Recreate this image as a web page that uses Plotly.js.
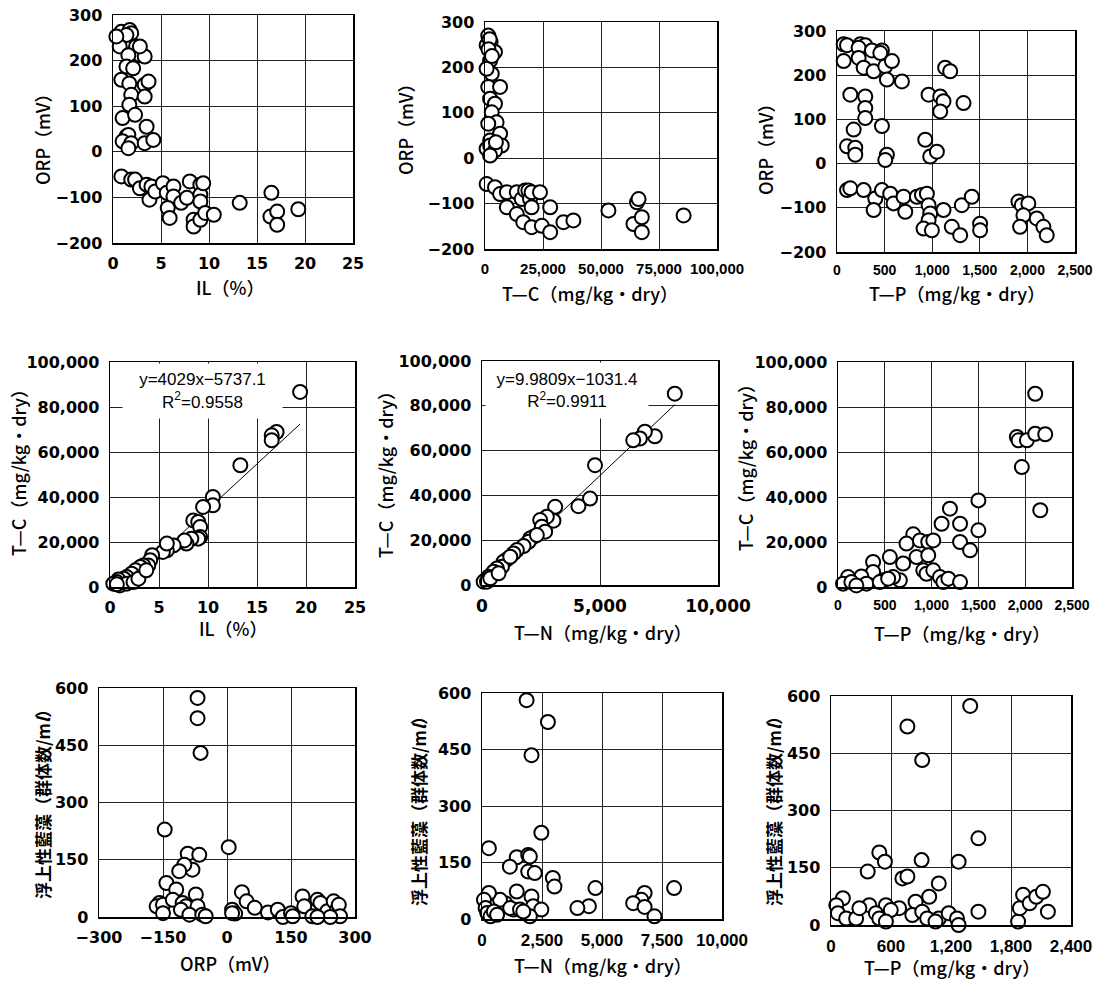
<!DOCTYPE html>
<html><head><meta charset="utf-8">
<script src="https://cdn.plot.ly/plotly-3.0.1.min.js"></script>
<style>html,body{margin:0;padding:0;background:#fff}
.xtick text,.ytick text{font-weight:bold !important}</style>
</head><body><div id="c" style="width:1108px;height:983px"></div>
<script>
// ---- data: plot 1  ORP vs IL ----
const IL1 = [0.87,1.74,1.9,1.4,0.7,2.4,2.8,3.3,1.6,1.4,2.1,0.87,1.7,1.9,3.3,3.7,3.3,1.7,1.0,2.3,3.5,1.4,1.6,1.0,1.9,1.6,3.3,4.2,2.8,0.35,
  0.87,1.9,2.3,2.8,3.5,4.0,3.8,4.4,5.2,5.6,6.3,6.3,5.7,5.9,7.1,7.7,8.0,9.1,9.1,9.1,8.4,8.4,9.1,9.6,10.5,13.2,16.5,16.4,17.1,17.1,19.3,9.4];
const ORP1 = [263,267,260,256,231,231,212,209,212,187,183,158,150,125,147,154,121,103,74,81,55,34,37,23,19,8,19,26,231,253,
  -54,-61,-61,-80,-72,-76,-105,-87,-69,-90,-76,-98,-123,-145,-112,-101,-65,-72,-94,-109,-149,-164,-149,-134,-138,-112,-90,-142,-131,-160,-126,-69];
// ---- plot 2  ORP vs T-C ----
const TC2 = [1400,700,2400,4300,2200,2900,1400,6500,2200,4300,2900,5000,1400,6500,2200,7200,700,2200,4300,2200,4700,700,2000,1500,3000,
  700,4300,6500,9400,13700,9400,13700,15800,17300,18700,19400,20100,16500,20100,20100,23700,24500,28100,28100,33800,38100,53200,65500,66200,64000,67600,67600,85600];
const ORP2 = [270,249,256,234,215,186,157,157,131,120,101,79,76,54,39,28,21,28,17,6,35,197,262,240,225,
  -57,-64,-79,-75,-75,-108,-123,-90,-71,-71,-90,-75,-141,-152,-108,-75,-149,-163,-108,-141,-137,-115,-97,-90,-145,-130,-163,-126];
// ---- plot 3  ORP vs T-P ----
const TP3 = [70,105,245,297,227,367,472,455,70,227,280,385,507,577,524,682,1136,1189,140,297,297,297,962,1084,1119,1084,1329,175,472,105,192,192,927,979,1049,524,507,
  105,140,280,402,385,472,559,594,699,717,839,892,944,962,979,962,909,997,1119,1206,1294,1311,1416,1503,1503,1906,1941,2010,1958,1923,2098,2168,2203];
const ORP3 = [270,268,270,268,262,256,256,250,232,239,217,209,220,232,190,186,217,209,156,152,126,103,156,152,141,118,137,77,85,39,36,20,54,16,27,20,8,
  -60,-56,-60,-79,-105,-60,-68,-90,-75,-109,-75,-71,-68,-94,-113,-128,-147,-151,-105,-143,-162,-94,-75,-136,-151,-86,-94,-90,-117,-143,-124,-143,-162];
// ---- plot 4  T-C vs IL ----
const IL4 = [19.4,17.0,16.5,16.5,13.3,10.5,10.5,9.5,8.5,9.0,9.2,9.2,9.0,8.3,7.8,7.6,6.5,5.8,5.4,5.8,4.3,4.1,3.9,3.4,3.1,2.6,2.2,1.7,1.4,0.85,0.7,0.34,1.0,1.7,0.7,2.4,2.9,3.7];
const TC4 = [86700,68900,67400,65200,54100,40000,36300,35600,29600,28900,26700,22200,21500,21500,19300,20700,18500,16300,15600,19300,14100,11900,9600,9600,8900,7400,5900,4400,3700,3300,2200,1500,700,1500,1200,2200,3700,7400];
const FIT4 = {slope: 4029, intercept: -5737.1, eq: "y=4029x−5737.1", r2: "R<sup>2</sup>=0.9558"};
// ---- plot 5  T-C vs T-N ----
const TN5 = [8169,7324,6901,6690,6408,4789,4577,4085,3099,3028,2746,2465,2535,2676,2183,2042,1972,1761,1479,1338,1056,915,845,634,493,282,141,70,211,352,704,1197,2324];
const TC5 = [85400,66400,68400,65400,64600,53500,38600,35200,34900,28700,30500,29000,26000,23800,21500,20800,19300,17400,15600,14100,11400,10400,8200,7400,5900,3700,2200,1500,1500,3000,5200,12600,22300];
const FIT5 = {slope: 9.9809, intercept: -1031.4, eq: "y=9.9809x−1031.4", r2: "R<sup>2</sup>=0.9911"};
// ---- plot 6  T-C vs T-P ----
const TP6 = [2107,1911,1929,2018,2107,2214,1964,2161,1500,1500,1196,1107,1304,1304,1411,804,732,875,964,1018,839,964,911,946,1018,1089,1125,1179,1304,696,554,375,375,482,661,589,250,107,54,143,304,446,196,536];
const TC6 = [85900,66700,65200,65200,68100,67900,53300,34100,38500,25200,34800,28100,28100,20000,16300,23400,19300,20700,20000,20700,13300,14100,7400,5900,7400,4400,2200,3700,2200,10400,13300,11100,6700,3000,3000,4400,4700,4400,1500,2200,1500,2200,700,3700];
// ---- plot 7  algae vs ORP ----
const ORP7 = [-69,-69,-62,-146,4,-92,-65,-81,-100,-112,-142,-119,-73,-158,-165,-150,-127,-104,-96,-69,-150,-108,-88,-58,-50,12,19,35,46,65,96,119,131,150,154,177,181,200,212,219,235,250,258,262,265,242,212,12];
const AL7 = [574,521,430,229,183,166,163,124,137,120,89,72,59,37,28,32,45,37,28,28,10,19,6,6,2,19,9,65,41,24,12,19,0,10,2,54,28,2,45,37,15,41,19,32,2,0,0,10];
// ---- plot 8  algae vs T-N ----
const TN8 = [1858,2746,2063,2473,287,1448,1926,1995,1161,1926,2199,2951,3019,4727,8005,6776,6639,6298,6776,7186,4454,3975,1448,2063,2131,2473,1995,1311,970,751,287,82,150,219,355,492,628,1175,1585,1721];
const AL8 = [581,523,435,229,188,164,170,166,139,126,122,109,86,82,82,69,51,42,32,7,34,29,73,60,34,25,7,25,42,51,69,51,29,16,7,20,11,29,25,20];
// ---- plot 9  algae vs T-P ----
const TP9 = [1392,764,912,1474,483,539,906,1276,367,714,764,1078,982,846,681,549,383,119,53,69,152,251,284,449,483,598,813,912,962,1078,1177,1260,1276,1474,1871,1888,1921,1987,2053,2119,2169,549,1045];
const AL9 = [574,520,432,227,190,166,170,166,140,122,127,109,74,61,44,52,52,70,52,31,17,17,44,31,17,39,26,35,17,17,31,17,0,35,9,44,79,57,74,87,35,9,9];

// ---- axis titles ----
const T_ORP = "ORP（mV）";
const T_IL = "IL（%）";
const T_TC = "T—C（mg/kg・dry）";
const T_TN = "T—N（mg/kg・dry）";
const T_TP = "T—P（mg/kg・dry）";
const T_AL = "浮上性藍藻（群体数/m<i>l</i>）";

// ---- layout config ----
const W = 1108, H = 983;
const frames = [[113,353,15,243],[485,717,22,249],[837,1075,31,252],
                [110,355,362,587],[482,718,361,585],[838,1072,362,587],
                [99,355,688,917],[482,722,693,919],[831,1071,696,925]];
const series = [[IL1,ORP1],[TC2,ORP2],[TP3,ORP3],[IL4,TC4],[TN5,TC5],[TP6,TC6],[ORP7,AL7],[TN8,AL8],[TP9,AL9]];
const xr = [[0,25,5],[0,100000,25000],[0,2500,500],[0,25,5],[0,10000,5000],[0,2500,500],[-300,300,150],[0,10000,2500],[0,2400,600]];
const yr = [[-200,300,100],[-200,300,100],[-200,300,100],[0,100000,20000],[0,100000,20000],[0,100000,20000],[0,600,150],[0,600,150],[0,600,150]];
const DJ = s => ({family:"DejaVu Sans", size:s, color:"#000", weight:"bold"});
const LB = s => ({family:"Liberation Sans, Arial", size:s, color:"#000", weight:"bold"});
const xfont = [DJ(16), LB(15), LB(14), DJ(16), DJ(17), LB(14), DJ(16), LB(17), LB(17)];
const titles = [
  [T_IL,230,287, T_ORP,42,135],[T_TC,590,293, T_ORP,405,125],[T_TP,957,293, T_ORP,765,145],
  [T_IL,233,628, T_TC,18,468],[T_TN,603,632, T_TC,385,470],[T_TP,962,633, T_TC,745,463],
  [T_ORP,230,963, T_AL,42,800],[T_TN,603,965, T_AL,418,807],[T_TP,952,967, T_AL,773,807]];

const traces = [], annotations = [];
const layout = {width:W, height:H, margin:{l:0,r:0,t:0,b:0}, paper_bgcolor:"#fff", plot_bgcolor:"#fff",
  showlegend:false, font:{family:"DejaVu Sans", color:"#000"}};

frames.forEach((f,i) => {
  const n = i+1, sx = n===1?"":n, xa = "x"+sx, ya = "y"+sx;
  const common = {showgrid:true, gridcolor:"#222", gridwidth:1, zeroline:false, showline:true, linecolor:"#000",
    linewidth:1.5, mirror:true, ticks:"", fixedrange:true, tickformat:",d"};
  layout["xaxis"+sx] = Object.assign({}, common, {domain:[f[0]/W, f[1]/W], anchor:ya, range:[xr[i][0],xr[i][1]],
    tick0:xr[i][0], dtick:xr[i][2], tickfont:xfont[i], ticklabelstandoff:5});
  layout["yaxis"+sx] = Object.assign({}, common, {domain:[1-f[3]/H, 1-f[2]/H], anchor:xa, range:[yr[i][0],yr[i][1]],
    tick0:yr[i][0], dtick:yr[i][2], tickfont:DJ(16), ticklabelstandoff:6});
  traces.push({type:"scatter", mode:"markers", x:series[i][0], y:series[i][1], xaxis:xa, yaxis:ya, cliponaxis:false,
    marker:{symbol:"circle", size:14, color:"#fff", line:{color:"#000", width:2}}});
  const t = titles[i];
  annotations.push({xref:"paper", yref:"paper", x:t[1]/W, y:1-t[2]/H, text:t[0], showarrow:false,
    xanchor:"center", yanchor:"middle", font:{family:"Noto Sans CJK JP", size:18, color:"#000", weight:500}});
  annotations.push({xref:"paper", yref:"paper", x:t[4]/W, y:1-t[5]/H, text:t[3], showarrow:false, textangle:-90,
    xanchor:"center", yanchor:"middle", font:{family:"Noto Sans CJK JP", size:(i>=6?17:18), color:"#000", weight:(i>=6?"bold":500)}});
});

// trend lines + equation boxes (plots 4 and 5): box [left, right, top, bottom] in px
[[3, FIT4, [123,282,364,418]], [4, FIT5, [486,648,363,418]]].forEach(([i, fit, box]) => {
  const sx = i+1, xs = series[i][0];
  const x0 = Math.min(...xs), x1 = Math.max(...xs);
  traces.push({type:"scatter", mode:"lines", x:[x0,x1], y:[fit.slope*x0+fit.intercept, fit.slope*x1+fit.intercept],
    xaxis:"x"+sx, yaxis:"y"+sx, line:{color:"#000", width:1}});
  annotations.push({xref:"paper", yref:"paper", x:(box[0]+box[1])/2/W, y:1-(box[2]+box[3])/2/H,
    xanchor:"center", yanchor:"middle", width:box[1]-box[0], height:box[3]-box[2], borderpad:0,
    bgcolor:"#fff", align:"center", valign:"middle", showarrow:false,
    text:fit.eq + "<br>" + fit.r2, font:{family:"Liberation Sans, Arial", size:17, color:"#000"}});
});
traces.sort((a,b) => (a.mode==="lines"?0:1) - (b.mode==="lines"?0:1));
layout.annotations = annotations;
Plotly.newPlot("c", traces, layout, {displayModeBar:false, staticPlot:true});
</script></body></html>
